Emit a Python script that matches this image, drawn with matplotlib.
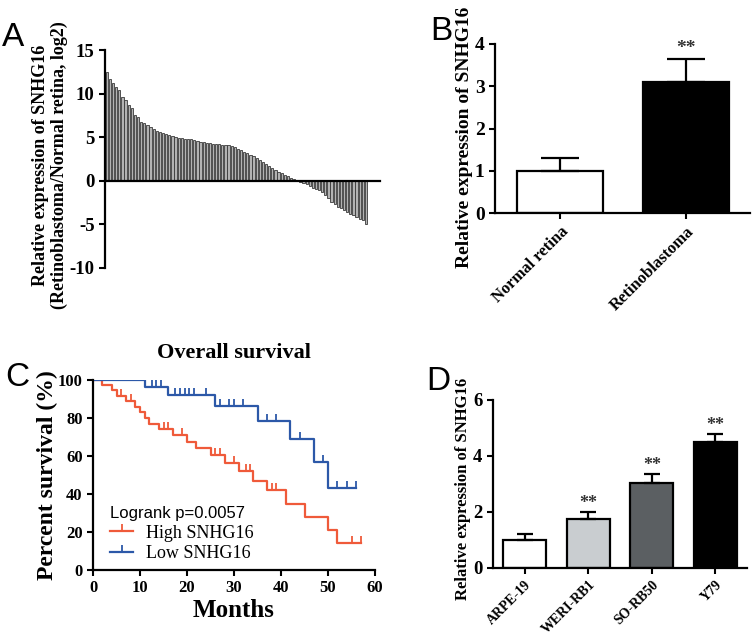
import numpy as np
import matplotlib
matplotlib.use("Agg")
import matplotlib.pyplot as plt
from matplotlib.lines import Line2D

# ─────────────────────────────────────────────
# DATA
# ─────────────────────────────────────────────
# Panel A: per-sample log2 fold change (sorted)
fold_pos = [12.5, 11.7, 11.2, 10.75, 10.4, 9.6, 9.3, 8.7, 8.4, 7.5, 7.3, 6.8, 6.6,
            6.4, 6.2, 5.9, 5.7, 5.6, 5.5, 5.35, 5.2, 5.1, 5.0, 4.95, 4.9, 4.8, 4.78,
            4.75, 4.7, 4.6, 4.45, 4.4, 4.35, 4.3, 4.25, 4.2, 4.18, 4.15, 4.1, 4.05,
            4.0, 3.9, 3.7, 3.5, 3.35, 3.15, 2.95, 2.8, 2.6, 2.4, 2.15, 1.95, 1.7,
            1.5, 1.25, 1.05, 0.87, 0.7, 0.5, 0.35, 0.2, 0.1]
fold_neg = [-0.1, -0.25, -0.4, -0.6, -0.8, -0.95, -1.1, -1.3, -1.6, -2.0, -2.4,
            -2.7, -2.95, -3.15, -3.35, -3.55, -3.75, -3.95, -4.15, -4.35, -4.55, -5.0]

# Panel B: tissue expression
tissue_names = ["Normal retina", "Retinoblastoma"]
tissue_mean = [1.0, 3.1]
tissue_err = [0.3, 0.55]
tissue_colors = ["white", "black"]

# Panel C: Kaplan-Meier steps (months, percent survival)
high_t = [0, 2, 4, 5, 7, 9, 10, 11, 12, 14, 17, 20, 22, 25, 28, 31, 34, 37, 41, 45, 50, 52, 57]
high_s = [100, 97.5, 94.5, 91.5, 89, 86, 83, 80, 77, 74, 71, 67.5, 64, 60.5, 56.5, 52,
          47, 42, 35, 28, 21, 14, 14]
high_cens = [6, 8, 15, 16, 19, 26, 27, 30, 32.5, 33.5, 38, 39, 55, 57]
low_t = [0, 11, 16, 26, 35, 42, 47, 50, 56]
low_s = [100, 96.5, 92, 86.5, 78.5, 69, 57, 43, 43]
low_cens = [1, 2, 3, 4, 5, 6, 7, 8, 9, 10, 12.5, 13.5, 14.5, 17.5, 18.5, 19.5, 20.5,
            21.5, 24, 27, 29, 30, 32, 37, 39, 44, 49, 52, 54, 56]

# Panel D: cell lines
cell_names = ["ARPE-19", "WERI-RB1", "SO-RB50", "Y79"]
cell_mean = [1.0, 1.75, 3.05, 4.5]
cell_err = [0.2, 0.25, 0.3, 0.3]
cell_colors = ["white", "#c9cdd0", "#5b5f62", "black"]
cell_sig = ["", "**", "**", "**"]

RED = "#ef5a3a"
BLUE = "#2c58a8"

plt.rcParams["font.family"] = ["Liberation Serif", "DejaVu Sans"]
plt.rcParams["font.weight"] = "bold"
plt.rcParams["axes.linewidth"] = 1.6
plt.rcParams["axes.unicode_minus"] = False

W, H = 753, 636
fig = plt.figure(figsize=(W / 100, H / 100), dpi=100)


def axes_px(left, top, right, bottom):
    return fig.add_axes([left / W, 1 - bottom / H, (right - left) / W, (bottom - top) / H])


def style(ax, size):
    for s in ["top", "right"]:
        ax.spines[s].set_visible(False)
    ax.tick_params(direction="out", width=1.5, length=4, labelsize=size)
    for lab in ax.get_xticklabels() + ax.get_yticklabels():
        lab.set_fontweight("bold")


# ─────────────────────────────────────────────
# A: waterfall
# ─────────────────────────────────────────────
axA = axes_px(105, 50, 380, 268)
fold = fold_pos + fold_neg
xs = np.arange(len(fold))
axA.bar(xs, fold, width=0.72, color="#b3b3b3", edgecolor="#3a3a3a", linewidth=0.6)
axA.set_xlim(-0.6, len(fold) + 3.5)
axA.set_ylim(-10, 15)
axA.set_yticks([-10, -5, 0, 5, 10, 15])
axA.spines["bottom"].set_position(("data", 0))
axA.set_xticks([])
style(axA, 13.5)
axA.set_ylabel("Relative expression of SNHG16\n(Retinoblastoma/Normal retina, log2)",
               fontsize=13, fontweight="bold", linespacing=1.15)
axA.yaxis.set_label_coords(-0.135, 0.47)

# ─────────────────────────────────────────────
# B: tissue bars
# ─────────────────────────────────────────────
axB = axes_px(495, 44, 750, 213)
bx = np.arange(len(tissue_names))
axB.bar(bx, tissue_mean, width=0.675, color=tissue_colors, edgecolor="black", linewidth=1.6)
axB.errorbar(bx, tissue_mean, yerr=[np.zeros(len(bx)), tissue_err], fmt="none",
             ecolor="black", elinewidth=1.6, capsize=14, capthick=1.6)
axB.text(bx[1], tissue_mean[1] + tissue_err[1] + 0.04, "**", ha="center", va="bottom",
         fontsize=14, fontweight="bold", color="#333333")
axB.set_xlim(-0.516, 1.508)
axB.set_ylim(0, 4)
axB.set_yticks([0, 1, 2, 3, 4])
axB.set_xticks(bx)
axB.set_xticklabels(tissue_names, rotation=45, ha="right", rotation_mode="anchor")
style(axB, 14)
for lab in axB.get_xticklabels():
    lab.set_fontsize(12)
axB.set_ylabel("Relative expression of SNHG16", fontsize=14, fontweight="bold")
axB.yaxis.set_label_coords(-0.085, 0.45)

# ─────────────────────────────────────────────
# C: survival
# ─────────────────────────────────────────────
axC = axes_px(93, 380, 375, 570)


def km(ax, t, s, cens, color):
    ax.step(t, s, where="post", color=color, linewidth=1.6)
    t_arr = np.array(t)
    idx = np.searchsorted(t_arr, cens, side="right") - 1
    ax.plot(cens, np.array(s)[idx], linestyle="none", marker=2, markersize=5,
            markeredgewidth=1.3, color=color)


km(axC, high_t, high_s, high_cens, RED)
km(axC, low_t, low_s, low_cens, BLUE)
axC.set_xlim(0, 60)
axC.set_ylim(0, 100)
axC.set_xticks([0, 10, 20, 30, 40, 50, 60])
axC.set_yticks([0, 20, 40, 60, 80, 100])
style(axC, 12)
axC.set_xlabel("Months", fontsize=18, fontweight="bold", labelpad=2)
axC.set_ylabel("Percent survival (%)", fontsize=17, fontweight="bold")
axC.yaxis.set_label_coords(-0.125, 0.5)
axC.set_title("Overall survival", fontsize=16, fontweight="bold", pad=16)
handles = [Line2D([0], [0], color=RED, lw=1.6, marker=2, markersize=5, markeredgewidth=1.3),
           Line2D([0], [0], color=BLUE, lw=1.6, marker=2, markersize=5, markeredgewidth=1.3)]
leg = axC.legend(handles, ["High SNHG16", "Low SNHG16"], loc="lower left",
                 bbox_to_anchor=(0.06, 0.04), frameon=False, borderpad=0, borderaxespad=0,
                 handlelength=1.3, handletextpad=0.7, labelspacing=0.2,
                 prop={"family": "Liberation Serif", "size": 13, "weight": "normal"},
                 title="Logrank p=0.0057",
                 title_fontproperties={"family": "Liberation Sans", "size": 12,
                                       "weight": "normal"},
                 alignment="left")

# ─────────────────────────────────────────────
# D: cell lines
# ─────────────────────────────────────────────
axD = axes_px(493, 400, 747, 568)
dx = np.arange(len(cell_names))
axD.bar(dx, cell_mean, width=0.68, color=cell_colors, edgecolor="black", linewidth=1.6)
axD.errorbar(dx, cell_mean, yerr=[np.zeros(len(dx)), cell_err], fmt="none",
             ecolor="black", elinewidth=1.6, capsize=6, capthick=1.6)
for x, m, e, sig in zip(dx, cell_mean, cell_err, cell_sig):
    if sig:
        axD.text(x, m + e + 0.0, sig, ha="center", va="bottom", fontsize=13,
                 fontweight="bold", color="#333333")
axD.set_xlim(-0.5, 3.5)
axD.set_ylim(0, 6)
axD.set_yticks([0, 2, 4, 6])
axD.set_xticks(dx)
axD.set_xticklabels(cell_names, rotation=45, ha="right", rotation_mode="anchor")
style(axD, 13.5)
for lab in axD.get_xticklabels():
    lab.set_fontsize(10)
axD.set_ylabel("Relative expression of SNHG16", fontsize=12, fontweight="bold")
axD.yaxis.set_label_coords(-0.087, 0.47)

# panel letters
for letter, x, y in [("A", 13, 38), ("B", 441, 31), ("C", 17, 378), ("D", 438, 381)]:
    fig.text(x / W, 1 - y / H, letter, fontsize=24, family="Liberation Sans",
             fontweight="normal", ha="center", va="center")

fig.savefig("out.png", dpi=100)
